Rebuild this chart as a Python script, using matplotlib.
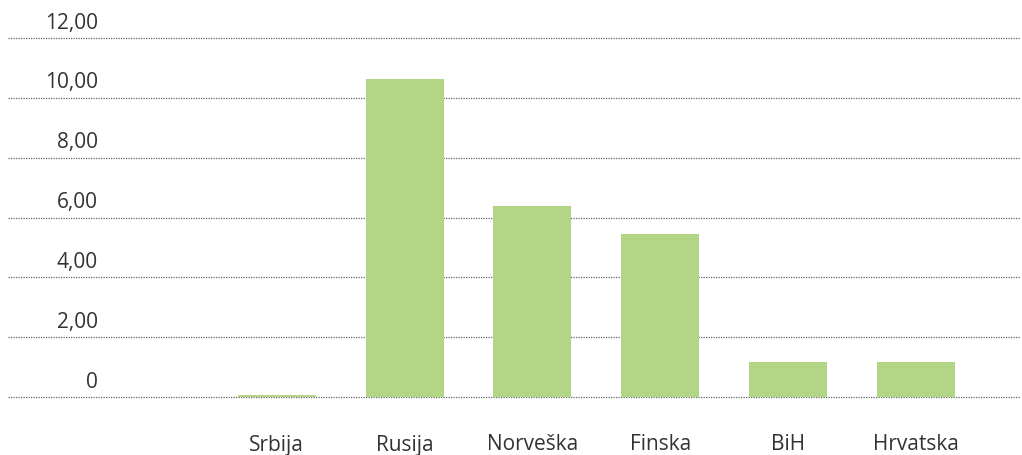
import matplotlib
matplotlib.use("Agg")
import matplotlib.pyplot as plt
import matplotlib.transforms as mtransforms

categories = ["", "Srbija", "Rusija", "Norveška", "Finska", "BiH", "Hrvatska"]
values = [0.0, 0.07, 10.63, 6.39, 5.45, 1.17, 1.17]
yticks = [0, 2, 4, 6, 8, 10, 12]
ytick_labels = ["0", "2,00", "4,00", "6,00", "8,00", "10,00", "12,00"]

plt.rcParams['font.family'] = ['Open Sans', 'DejaVu Sans']

fig = plt.figure(figsize=(10.22, 4.55), dpi=100)
W, H = 1022, 455
ax = fig.add_axes([8 / W, (H - 397) / H, (1020 - 8) / W, (397 - 38) / H])

x = list(range(len(categories)))
ax.bar(x, values, width=0.61, color="#b2d685", zorder=3)

ax.set_ylim(0, 12)
ax.set_xlim((8 - 149) / 127.8, (1020 - 149) / 127.8)
ax.set_yticks(yticks)
ax.set_yticklabels([])
ax.tick_params(axis='y', length=0)
ax.yaxis.grid(True, linestyle=(0, (1, 1)), color="#666666", linewidth=0.9, zorder=0)
for gl in ax.get_ygridlines():
    gl.set_clip_on(False)
ax.xaxis.grid(False)
for s in ax.spines.values():
    s.set_visible(False)

ax.set_xticks(x)
ax.set_xticklabels(categories, fontsize=15, color="#333333")
ax.tick_params(axis='x', length=0, pad=27)

trans = mtransforms.blended_transform_factory(fig.transFigure, ax.transData)
offset = mtransforms.offset_copy(trans, fig=fig, x=0, y=10.8, units='points')
for v, lab in zip(yticks, ytick_labels):
    ax.text(98 / W, v, lab, transform=offset, ha='right', va='center',
            fontsize=15, color="#333333")

fig.savefig("out.png", dpi=100)
